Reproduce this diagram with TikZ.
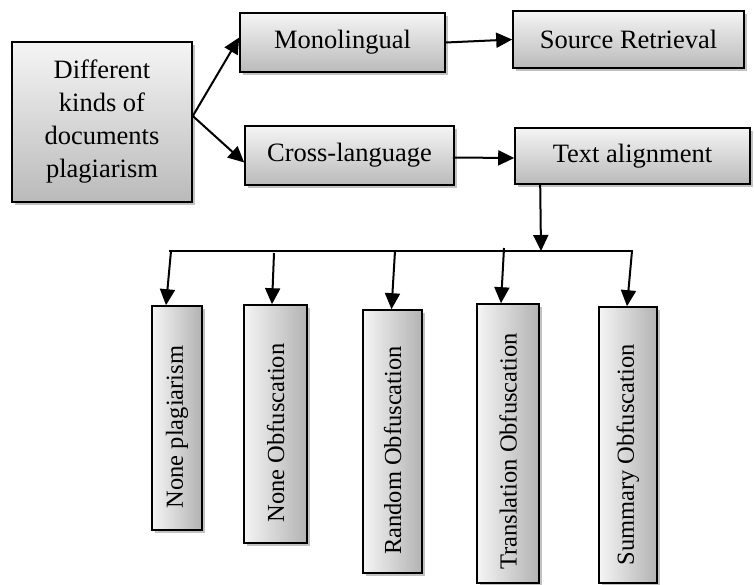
\documentclass[tikz,border=0pt]{standalone}
\usepackage{fontspec}
\setmainfont{Liberation Serif}
\usetikzlibrary{arrows.meta,shadows,calc}
\tikzset{
  hbox/.style={draw=black, line width=1.6pt, top color=black!4, bottom color=black!27,
    drop shadow={shadow xshift=2.5pt, shadow yshift=-2.5pt, fill=black!40, opacity=0.6},
    inner sep=0pt, align=center, font=\fontsize{26.5}{33}\selectfont},
  vbox/.style={draw=black, line width=1.6pt, left color=black!4, right color=black!30,
    drop shadow={shadow xshift=2.5pt, shadow yshift=-2.5pt, fill=black!40, opacity=0.6},
    inner sep=0pt},
  vtext/.style={rotate=90, inner sep=0pt, font=\fontsize{24.5}{28}\selectfont},
  arr/.style={line width=2pt, -{Triangle[length=16pt,width=15pt]}},
  ln/.style={line width=2pt}
}
\begin{document}
\begin{tikzpicture}[x=1pt,y=-1pt]
\useasboundingbox (0,0) rectangle (754,584);
% top boxes
\node[hbox, minimum width=180pt, minimum height=160pt] (main) at (102,122) {Different\\kinds of\\documents\\plagiarism};
\node[hbox, minimum width=205pt, minimum height=59pt] (mono) at (342.5,42.5) {Monolingual};
\node[hbox, minimum width=231pt, minimum height=57pt] (sr) at (628.5,39.5) {Source Retrieval};
\node[hbox, minimum width=209pt, minimum height=59pt] (cross) at (349.5,155.5) {Cross-language};
\node[hbox, minimum width=235pt, minimum height=56pt] (ta) at (632.5,156) {Text alignment};
% bottom boxes
\node[vbox, minimum width=50pt, minimum height=224pt] (b1) at (177,418) {};
\node[vbox, minimum width=63pt, minimum height=238pt] (b2) at (275.5,424) {};
\node[vbox, minimum width=59pt, minimum height=263pt] (b3) at (392.5,441.5) {};
\node[vbox, minimum width=62pt, minimum height=279pt] (b4) at (508,443.5) {};
\node[vbox, minimum width=58pt, minimum height=276pt] (b5) at (628,445) {};
\node[vtext] (t1) at ([yshift=-9pt]b1.center) {None plagiarism};
\node[vtext] (t2) at ([yshift=-9pt]b2.center) {None Obfuscation};
\node[vtext] (t3) at ([yshift=-9pt]b3.center) {Random Obfuscation};
\node[vtext] (t4) at ([yshift=-8pt]b4.center) {Translation Obfuscation};
\node[vtext] (t5) at ([yshift=-10pt]b5.center) {Summary Obfuscation};
% connectors top
\draw[arr] ([yshift=6pt]main.east) -- ([yshift=5pt]mono.west);
\draw[arr] ([yshift=6pt]main.east) -- ([yshift=-7pt]cross.west);
\draw[arr] (mono.east) -- (sr.west);
\draw[arr] ([xshift=-2pt,yshift=-2pt]cross.east) -- ([yshift=-2pt]ta.west);
% bus
\coordinate (busL) at (169,251);
\coordinate (busR) at (633,251);
\coordinate (busM) at (541,251);
\coordinate (d1) at (171,251);
\coordinate (d2) at (274,253);
\coordinate (d3) at (395,251);
\coordinate (d4) at (504,248);
\coordinate (d5) at (632,251);
\draw[ln] (busL) -- (busR);
\draw[arr] ([xshift=26pt]ta.south west) -- (busM);
\draw[arr] (d1) -- ([xshift=-11pt]b1.north);
\draw[arr] (d2) -- ([xshift=-3.5pt]b2.north);
\draw[arr] (d3) -- ([xshift=-1pt]b3.north);
\draw[arr] (d4) -- ([xshift=-7pt]b4.north);
\draw[arr] (d5) -- ([xshift=-1pt]b5.north);
\end{tikzpicture}
\end{document}
